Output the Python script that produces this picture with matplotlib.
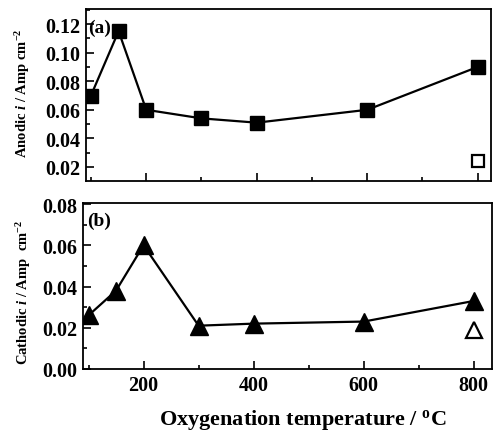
import numpy as np
import matplotlib
matplotlib.use("Agg")
import matplotlib.pyplot as plt
from matplotlib.ticker import MultipleLocator

plt.rcParams['font.family'] = ['Liberation Serif', 'DejaVu Serif']
plt.rcParams['font.weight'] = 'bold'
plt.rcParams['mathtext.fontset'] = 'custom'
plt.rcParams['mathtext.rm'] = 'Liberation Serif:bold'
plt.rcParams['mathtext.it'] = 'Liberation Serif:bold:italic'
plt.rcParams['mathtext.bf'] = 'Liberation Serif:bold'

# data
temps = [100, 150, 200, 300, 400, 600, 800]
anodic = [0.070, 0.115, 0.060, 0.054, 0.051, 0.060, 0.090]
cathodic = [0.026, 0.038, 0.060, 0.021, 0.022, 0.023, 0.033]
open_temp = [800]
anodic_open = [0.024]
cathodic_open = [0.019]

fig = plt.figure(figsize=(4.93, 4.35), dpi=100)
W, H = 493.0, 435.0
ax1 = fig.add_axes([86 / W, 1 - 182 / H, (491 - 86) / W, (182 - 10) / H])
ax2 = fig.add_axes([83 / W, 1 - 370 / H, (492 - 83) / W, (370 - 204) / H])


def style(ax):
    for s in ax.spines.values():
        s.set_linewidth(1.3)
    ax.tick_params(which='both', direction='in', top=False, right=False,
                   labelsize=14.5, width=1.2)
    ax.tick_params(which='major', length=6, pad=4)
    ax.tick_params(which='minor', length=3)
    ax.xaxis.set_major_locator(MultipleLocator(200))
    ax.xaxis.set_minor_locator(MultipleLocator(100))
    for lab in ax.get_xticklabels() + ax.get_yticklabels():
        lab.set_fontweight('bold')


ax1.plot(temps, anodic, color='black', lw=1.6, marker='s', ms=10,
         markeredgecolor='black')
ax1.plot(open_temp, anodic_open, ls='none', marker='s', ms=9,
         markerfacecolor='white', markeredgecolor='black', mew=1.6)
ax1.set_xlim(91, 824)
ax1.set_ylim(0.0102, 0.1305)
ax1.yaxis.set_major_locator(MultipleLocator(0.02))
ax1.yaxis.set_minor_locator(MultipleLocator(0.01))
ax1.yaxis.set_major_formatter(plt.FormatStrFormatter('%.2f'))
style(ax1)
ax1.tick_params(axis='x', labelbottom=False)
ax1.text(0.005, 0.895, '(a)', transform=ax1.transAxes, fontsize=14,
         fontweight='bold', va='center', ha='left')

ax2.plot(temps, cathodic, color='black', lw=1.6, marker='^', ms=13,
         markeredgecolor='black')
ax2.plot(open_temp, cathodic_open, ls='none', marker='^', ms=11,
         markerfacecolor='white', markeredgecolor='black', mew=1.6)
ax2.set_xlim(90, 833)
ax2.set_ylim(0, 0.0805)
ax2.yaxis.set_major_locator(MultipleLocator(0.02))
ax2.yaxis.set_minor_locator(MultipleLocator(0.01))
ax2.yaxis.set_major_formatter(plt.FormatStrFormatter('%.2f'))
style(ax2)
ax2.text(0.01, 0.898, '(b)', transform=ax2.transAxes, fontsize=14,
         fontweight='bold', va='center', ha='left')

fig.text(23 / W, 1 - 93 / H, r'Anodic $i$ / Amp cm$^{-2}$', rotation=90,
         fontsize=10.5, fontweight='bold', ha='center', va='center')
fig.text(24 / W, 1 - 292 / H, r'Cathodic $i$ / Amp  cm$^{-2}$', rotation=90,
         fontsize=10.5, fontweight='bold', ha='center', va='center')
fig.text(303 / W, 1 - 425 / H, r'Oxygenation temperature / $^{\mathrm{o}}$C',
         fontsize=16, fontweight='bold', ha='center', va='baseline')

fig.savefig('out.png', dpi=100)
